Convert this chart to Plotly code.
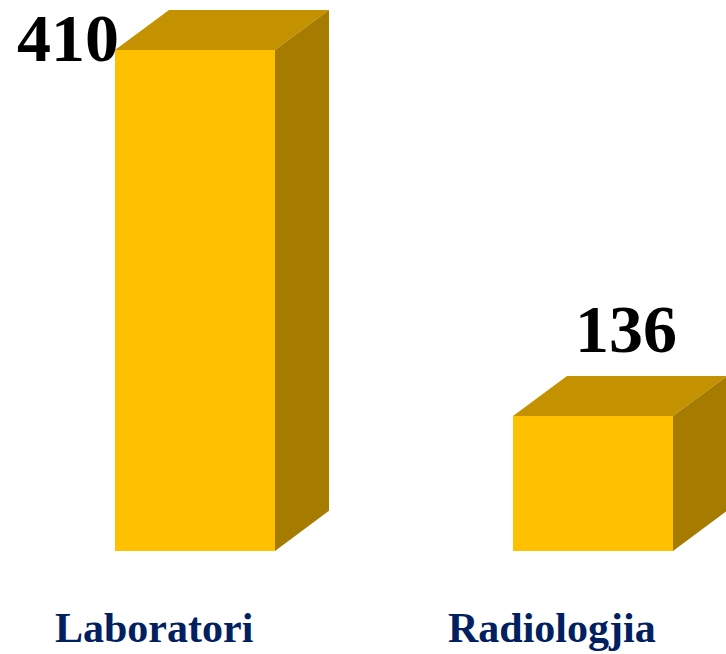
import plotly.graph_objects as go

# ---- data ----
categories = ["Laboratori", "Radiologjia"]
values = [410, 136]
value_labels = ["410", "136"]

# ---- style constants ----
BASE = 35          # axis floor of the value scale
BAR_W = 0.402      # front face width (category units)
DEPTH_X = 0.1357   # 3D depth offset (category units)
DEPTH_Y = 30       # 3D depth offset (value units)
FRONT = "#FFC000"
TOP = "#C49200"
SIDE = "#A67C00"
NAVY = "#002060"
FONT = "Liberation Serif, Times New Roman, serif"

xs = list(range(len(categories)))

fig = go.Figure()

# front faces (real bars)
fig.add_trace(go.Bar(
    x=xs, y=[v - BASE for v in values], base=BASE, width=BAR_W,
    marker=dict(color=FRONT, line=dict(width=0)), hoverinfo="skip",
    showlegend=False,
))

# top and side faces computed from the data
for i, v in zip(xs, values):
    l, r = i - BAR_W / 2, i + BAR_W / 2
    top_x = [l, l + DEPTH_X, r + DEPTH_X, r, l]
    top_y = [v, v + DEPTH_Y, v + DEPTH_Y, v, v]
    side_x = [r, r + DEPTH_X, r + DEPTH_X, r, r]
    side_y = [BASE, BASE + DEPTH_Y, v + DEPTH_Y, v, BASE]
    fig.add_trace(go.Scatter(x=top_x, y=top_y, fill="toself", fillcolor=TOP,
                             mode="lines", line=dict(width=0, color=TOP),
                             hoverinfo="skip", showlegend=False))
    fig.add_trace(go.Scatter(x=side_x, y=side_y, fill="toself", fillcolor=SIDE,
                             mode="lines", line=dict(width=0, color=SIDE),
                             hoverinfo="skip", showlegend=False))

# value labels
label_shift = [(-127, 12), (33, 87)]
for i, v, t, (dx, dy) in zip(xs, values, value_labels, label_shift):
    fig.add_annotation(x=i, y=v, text=f"<b>{t}</b>", showarrow=False,
                       xanchor="center", yanchor="middle", xshift=dx, yshift=dy,
                       font=dict(family=FONT, size=68, color="black"))

# category labels
for i, c in zip(xs, categories):
    fig.add_annotation(x=i, y=BASE, text=f"<b>{c}</b>", showarrow=False,
                       xanchor="center", yanchor="middle", xshift=-41, yshift=-77,
                       font=dict(family=FONT, size=42, color=NAVY))

fig.update_layout(
    width=726, height=654,
    margin=dict(l=0, r=0, t=0, b=0),
    paper_bgcolor="white", plot_bgcolor="white",
    xaxis=dict(range=[-0.48995, 1.33417], visible=False, fixedrange=True),
    yaxis=dict(range=[-42.16, 447.43], visible=False, fixedrange=True),
    bargap=0,
)

fig.write_html(
    "out.html",
    config={"displayModeBar": False},
    post_script="document.body.style.margin='0';document.body.style.overflow='hidden';",
)
